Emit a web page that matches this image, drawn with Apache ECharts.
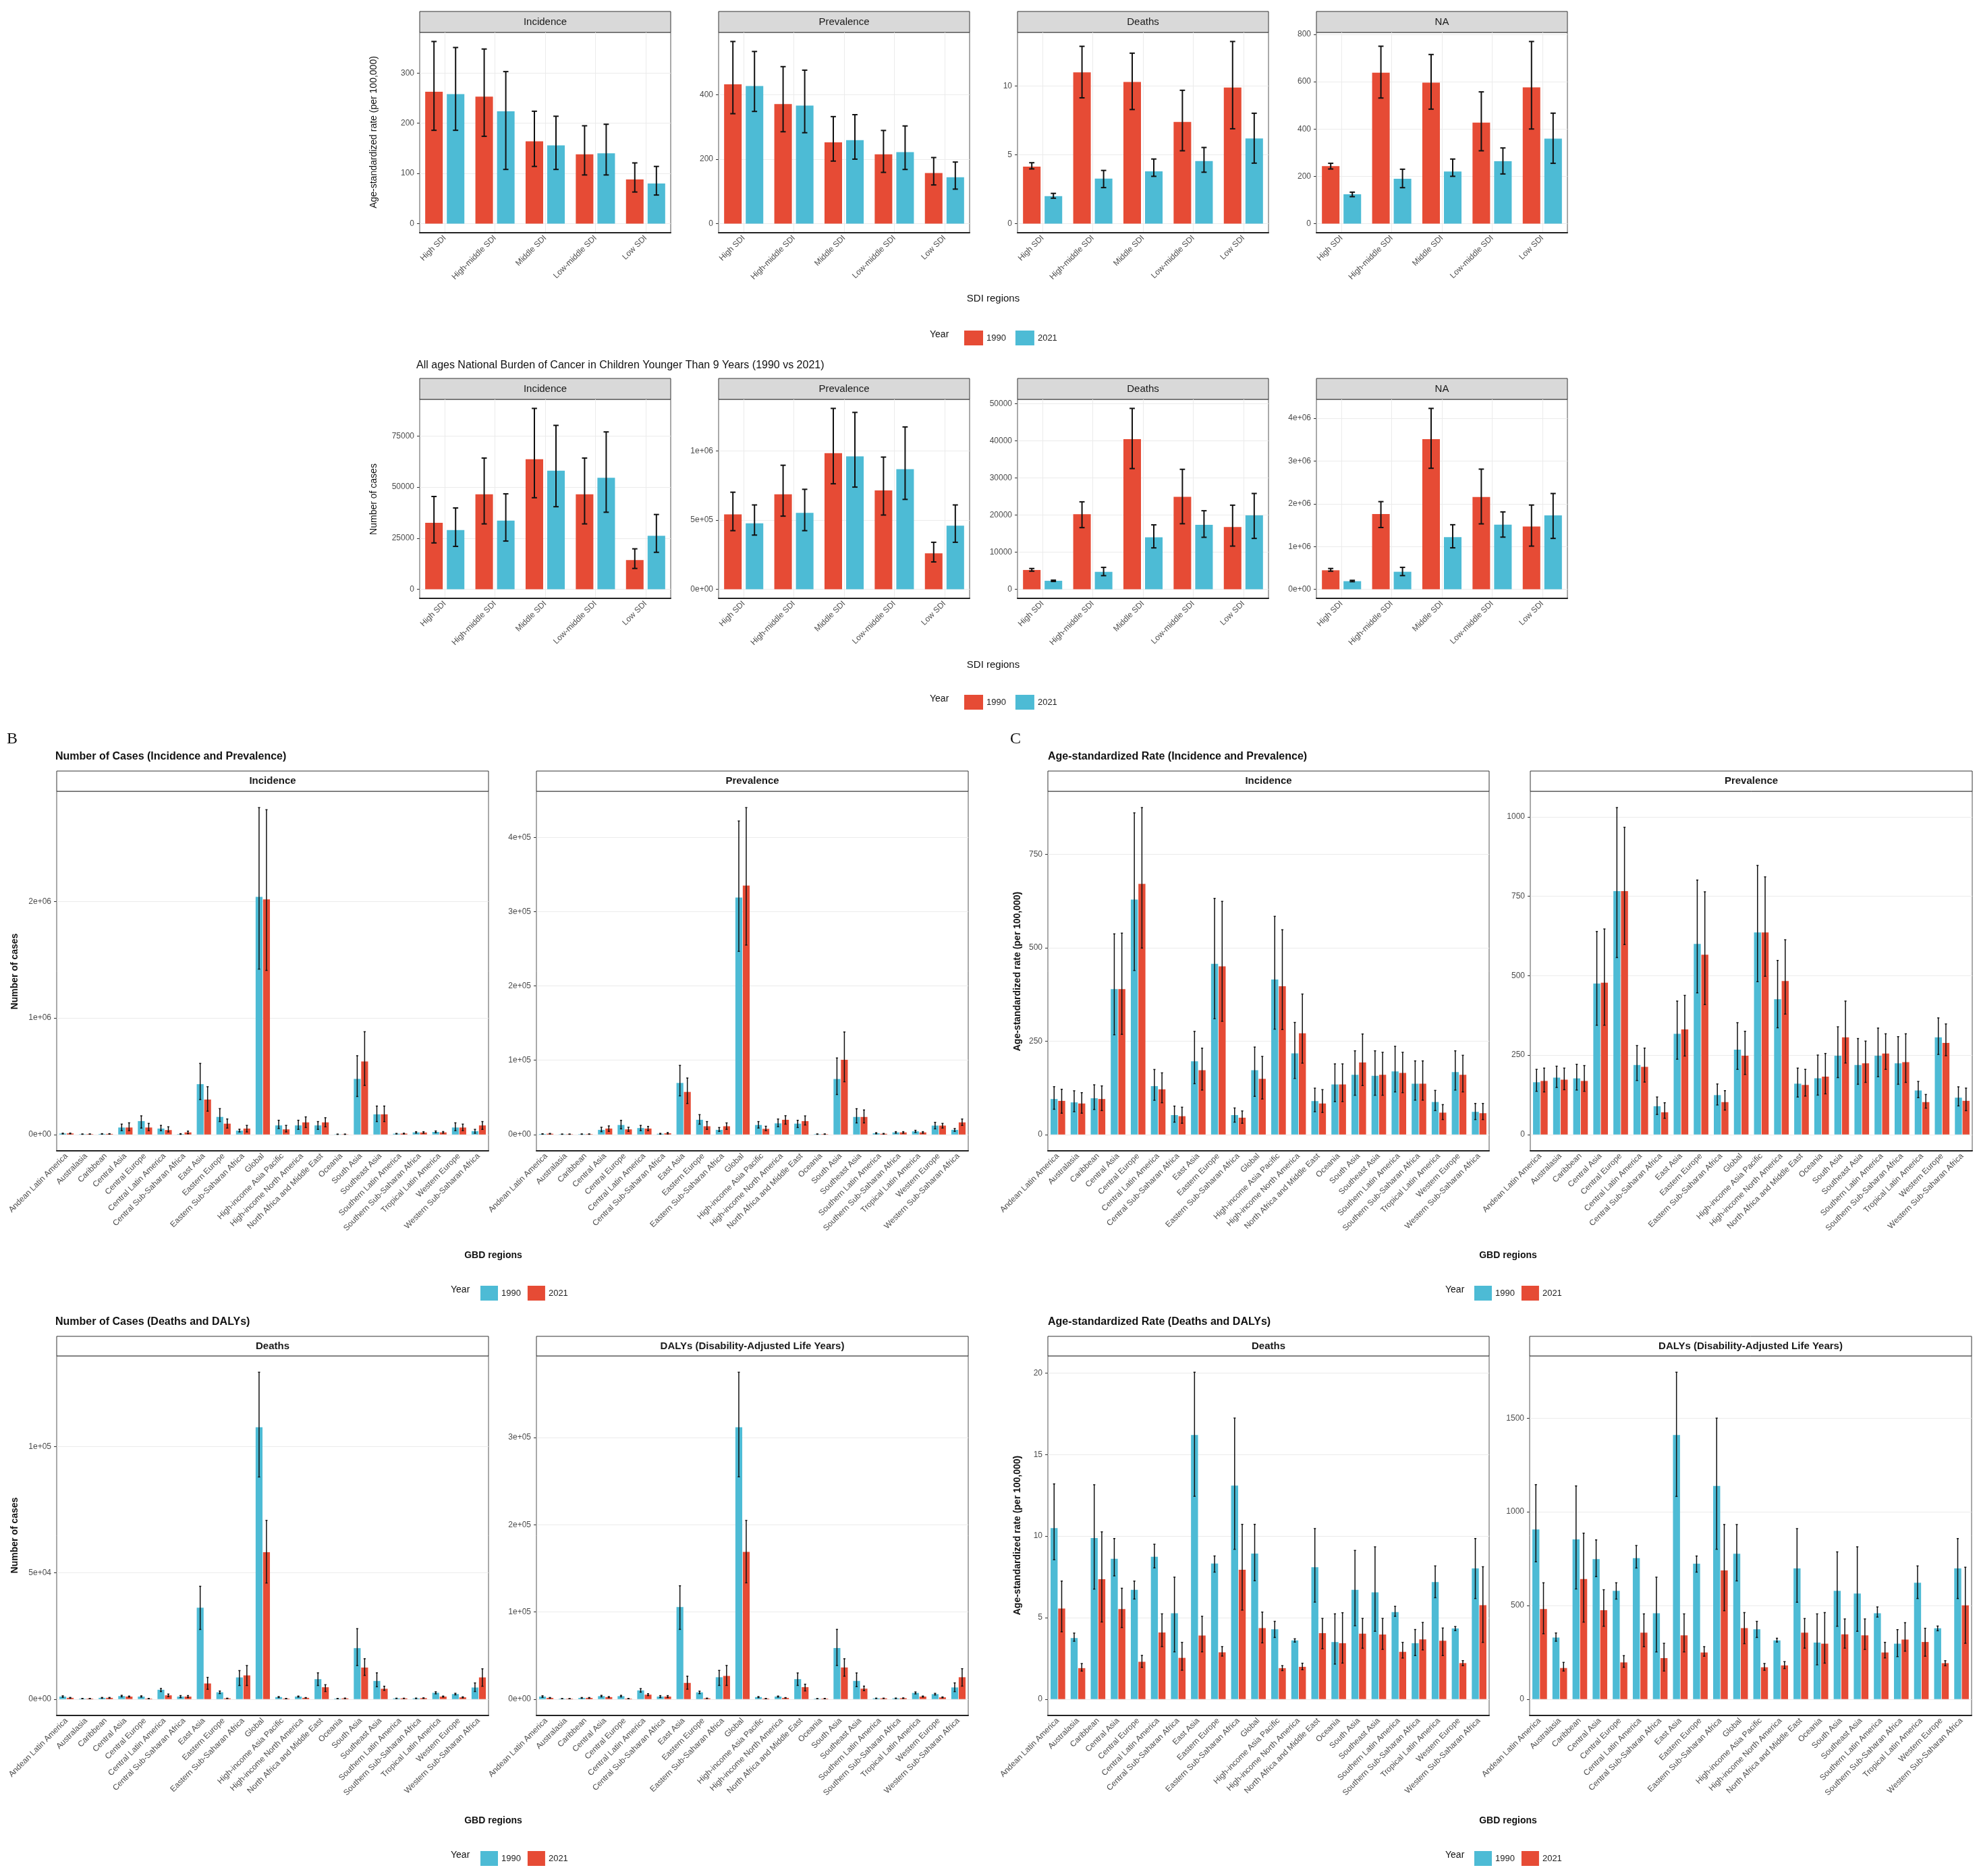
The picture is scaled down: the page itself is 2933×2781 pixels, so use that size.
<!doctype html>
<html>
<head>
<meta charset="utf-8">
<title>Cancer burden in children, 1990 vs 2021</title>
<style>
	html,body{margin:0;padding:0;background:#fff;}
	#page{position:relative;width:2933px;height:2781px;}
	.sec{position:absolute;}
</style>
</head>
<body>
<div id="page">
	<div class="sec" id="secA" style="left:0;top:0;width:2933px;height:1075px"></div>
	<div class="sec" id="secB1" style="left:0;top:1080px;width:1466px;height:870px"></div>
	<div class="sec" id="secC1" style="left:1466px;top:1080px;width:1467px;height:870px"></div>
	<div class="sec" id="secB2" style="left:0;top:1950px;width:1466px;height:831px"></div>
	<div class="sec" id="secC2" style="left:1466px;top:1950px;width:1467px;height:831px"></div>
</div>
<script src="https://cdn.jsdelivr.net/npm/echarts@6/dist/echarts.min.js"></script>
<script>
// categories
var sdiRegions = ['High SDI', 'High-middle SDI', 'Middle SDI', 'Low-middle SDI', 'Low SDI'];
var gbdRegions = ['Andean Latin America', 'Australasia', 'Caribbean', 'Central Asia', 'Central Europe',
	'Central Latin America', 'Central Sub-Saharan Africa', 'East Asia', 'Eastern Europe',
	'Eastern Sub-Saharan Africa', 'Global', 'High-income Asia Pacific', 'High-income North America',
	'North Africa and Middle East', 'Oceania', 'South Asia', 'Southeast Asia', 'Southern Latin America',
	'Southern Sub-Saharan Africa', 'Tropical Latin America', 'Western Europe', 'Western Sub-Saharan Africa'];
var years = ['1990', '2021'];

// each row: [value, lower, upper]
// A, top row: age-standardized rate by SDI region
var sdiRateInc1990 = [[263,186,363],[253,174,348],[164,114,224],[138,97,195],[88,63,121]];
var sdiRateInc2021 = [[258,186,351],[224,108,303],[156,108,214],[140,97,198],[80,57,114]];
var sdiRatePrev1990 = [[432,341,565],[371,285,487],[252,194,332],[215,159,289],[157,120,205]];
var sdiRatePrev2021 = [[427,348,534],[366,282,476],[259,200,338],[222,168,303],[144,107,191]];
var sdiRateDeaths1990 = [[4.15,3.98,4.43],[11.0,9.15,12.9],[10.3,8.3,12.4],[7.4,5.3,9.7],[9.9,6.9,13.25]];
var sdiRateDeaths2021 = [[2.0,1.85,2.2],[3.28,2.62,3.87],[3.8,3.44,4.7],[4.55,3.74,5.54],[6.2,4.4,8.03]];
var sdiRateNA1990 = [[243,231,255],[638,531,750],[596,484,715],[427,308,557],[576,400,770]];
var sdiRateNA2021 = [[124,114,133],[190,152,230],[220,200,273],[264,210,320],[359,255,467]];

// A, bottom row: number of cases by SDI region
var sdiNumInc1990 = [[32500,22700,45400],[46500,32000,64200],[63600,44800,88500],[46500,32000,64200],[14300,10200,19800]];
var sdiNumInc2021 = [[29000,21000,39800],[33600,23600,46700],[58000,40400,80200],[54600,37700,77000],[26200,18100,36600]];
var sdiNumPrev1990 = [[542000,424000,702000],[687000,529000,897000],[984000,763000,1308000],[715000,537000,956000],[260000,198000,340000]];
var sdiNumPrev2021 = [[477000,392000,610000],[553000,424000,723000],[961000,739000,1279000],[868000,650000,1174000],[460000,340000,610000]];
var sdiNumDeaths1990 = [[5200,4880,5600],[20200,16600,23550],[40400,32500,48700],[24900,17650,32300],[16750,11630,22650]];
var sdiNumDeaths2021 = [[2300,2100,2470],[4700,3670,5900],[14000,11150,17350],[17350,14000,21150],[19900,13700,25800]];
var sdiNumNA1990 = [[445000,424000,487000],[1760000,1445000,2050000],[3510000,2830000,4230000],[2160000,1530000,2810000],[1470000,1010000,1970000]];
var sdiNumNA2021 = [[190000,178000,210000],[410000,320000,513000],[1220000,970000,1510000],[1510000,1220000,1810000],[1730000,1190000,2240000]];

// B: number of cases by GBD region
var gbdNumInc1990 = [[8000,5000,11000],[3000,2000,4000],[5000,3000,7000],[60000,33000,89000],[115000,55000,160000],
	[51000,33000,78000],[4000,2000,7000],[432000,300000,610000],[151000,111000,222000],[33000,22000,45000],
	[2040000,1419000,2805000],[78000,51000,122000],[78000,44000,122000],[78000,44000,111000],[2000,1000,3000],
	[477000,326000,676000],[173000,111000,244000],[7000,5000,9000],[18000,12000,24000],[22000,15000,30000],
	[60000,33000,100000],[29000,11000,44000]];
var gbdNumInc2021 = [[9000,6000,12000],[3500,2500,4500],[5000,3000,7000],[60000,33000,100000],[60000,33000,95000],
	[38000,22000,66000],[18000,7000,29000],[300000,200000,410000],[93000,55000,133000],[51000,22000,78000],
	[2018000,1408000,2787000],[44000,22000,78000],[104000,60000,151000],[104000,66000,144000],[2000,1000,3000],
	[627000,421000,882000],[173000,111000,244000],[8000,5000,11000],[17000,11000,24000],[18000,12000,25000],
	[60000,33000,89000],[78000,44000,111000]];
var gbdNumPrev1990 = [[700,400,1000],[400,300,500],[500,300,700],[6250,3800,9700],[12800,7600,19000],
	[8700,5200,12200],[1000,500,1500],[69400,52000,93000],[19800,13900,26700],[6250,4200,9400],
	[319000,246500,422000],[12800,8700,17400],[15000,10400,20800],[14600,9400,19100],[500,300,700],
	[74700,53800,103000],[23600,15600,34700],[1700,1000,2400],[2800,1800,3800],[4200,2800,5600],
	[12000,7600,16300],[6250,4200,8000]];
var gbdNumPrev2021 = [[1000,600,1400],[400,300,500],[500,300,700],[8000,4200,11500],[6900,4200,9700],
	[8000,5200,10800],[1700,800,2600],[57300,41700,76000],[11100,6900,17400],[11100,6900,15600],
	[335000,255000,440000],[7600,5200,11100],[19800,13900,25300],[18000,12800,25000],[500,300,700],
	[100700,71000,138000],[23600,15600,33000],[1000,600,1400],[2800,1800,3800],[2800,1800,3800],
	[12000,8700,14900],[16300,12200,20800]];
var gbdNumDeaths1990 = [[1000,700,1300],[200,150,250],[500,350,650],[1200,900,1500],[1000,800,1300],
	[3700,3000,4200],[1000,600,1400],[36200,27600,44700],[2700,2200,3200],[8600,5400,11300],
	[107700,88000,129500],[800,600,1000],[1000,800,1200],[7900,5400,10400],[200,150,250],
	[20200,13300,27900],[7200,4900,10400],[300,250,350],[300,200,400],[2500,2100,2900],
	[2000,1700,2300],[4600,3000,6400]];
var gbdNumDeaths2021 = [[500,350,650],[200,150,250],[500,350,650],[1000,800,1200],[200,150,250],
	[1500,1000,2000],[1000,600,1400],[6200,3900,8600],[300,250,350],[9400,5400,13300],
	[58200,46000,70800],[200,150,250],[500,400,600],[4700,3000,5700],[300,200,400],
	[12500,9400,16000],[4100,3500,5100],[300,250,350],[400,300,500],[1000,800,1200],
	[700,500,900],[8600,5100,12000]];
var gbdNumDaly1990 = [[2900,2000,3800],[500,400,600],[1400,1000,1800],[3400,2600,4300],[3400,2600,4300],
	[10000,8000,12000],[2900,1800,4000],[105700,80000,130000],[7700,6300,9100],[25100,15700,32900],
	[312000,255000,375000],[2300,1700,2900],[2900,2300,3500],[22900,15700,30000],[500,400,600],
	[58600,38600,80000],[20900,14300,30000],[900,700,1100],[900,600,1200],[7100,6000,8200],
	[5700,4800,6600],[13400,8600,18600]];
var gbdNumDaly2021 = [[1400,1000,1800],[500,400,600],[1400,1000,1800],[2300,1700,2900],[600,500,700],
	[5100,4000,6200],[2900,1800,4000],[18600,11400,26300],[900,700,1100],[26600,15700,38600],
	[169000,133400,205000],[600,500,700],[1400,1100,1700],[13700,9400,17100],[600,400,800],
	[36300,26300,46300],[12000,9700,14900],[900,700,1100],[1100,800,1400],[2900,2300,3500],
	[2000,1500,2500],[25100,14900,34900]];

// C: age-standardized rate by GBD region
var gbdRateInc1990 = [[95,67.5,128],[86,61,117],[97,67,133],[389,267,537],[629,439,861],
	[129.5,91.6,174],[52,33,76],[196,136,276],[457,310,632],[52,33,71],
	[172,102,234],[415,282,584],[217,150,300],[89.5,61,124],[134,88,189],
	[160,105,224],[157,105,224],[169,114,236],[136,92,197],[87,64,118],
	[167,119,224],[60.6,40,83]];
var gbdRateInc2021 = [[90,57,121],[83,57,112],[95,64,130],[389,268,539],[671,499,875],
	[121,85,165],[49,30,73],[172,119,231],[450,303,624],[45,30,63],
	[149,95,209],[397,281,548],[271,191,376],[83,59,120],[134,88,189],
	[193,131,269],[160,105,220],[165,112,220],[136,92,197],[58.5,40,80],
	[160,114,212],[57,40,83]];
var gbdRatePrev1990 = [[164.5,136,205],[179,148,215],[176.7,140,221],[475,344,639],[766,557,1029],
	[219,170,280],[89,63,118],[317,237,420],[600,446,801],[124,93,159],
	[267,205,352],[636,481,847],[426,336,548],[160,118,209],[177,124,250],
	[248,179,339],[219,158,302],[248,182,335],[224,158,308],[138.6,116,167],
	[306,252,367],[116,90,150]];
var gbdRatePrev2021 = [[168.6,134,209],[172.6,141,209],[168.6,136,217],[478,344,647],[766,598,967],
	[213,165,272],[70,51,100],[331,247,438],[566,409,764],[102,77,138],
	[248,189,325],[636,498,811],[483,379,613],[156,121,205],[182,128,255],
	[306,225,420],[224,164,294],[255,205,317],[228,164,317],[102,83,126],
	[288.5,248,348],[106,75,146]];
var gbdRateDeaths1990 = [[10.49,8.55,13.2],[3.75,3.55,4.05],[9.88,6.75,13.15],[8.61,7.56,9.85],[6.7,6.14,7.24],
	[8.73,8.05,9.5],[5.27,2.9,7.48],[16.2,12.44,20.05],[8.32,7.79,8.78],[13.1,9.19,17.24],
	[8.93,7.26,10.72],[4.28,3.78,4.77],[3.6,3.5,3.7],[8.09,5.95,10.46],[3.5,2.15,5.23],
	[6.7,4.5,9.12],[6.55,4.16,9.34],[5.34,5.08,5.69],[3.43,2.67,4.27],[7.18,6.22,8.17],
	[4.34,4.2,4.45],[8.02,6.17,9.85]];
var gbdRateDeaths2021 = [[5.56,4.13,7.24],[1.9,1.72,2.18],[7.36,4.73,10.26],[5.53,4.39,6.8],[2.29,1.95,2.68],
	[4.09,3.22,5.23],[2.53,1.77,3.48],[3.9,2.9,5.08],[2.87,2.64,3.22],[7.94,5.46,10.72],
	[4.36,3.45,5.34],[1.9,1.75,2.05],[1.98,1.8,2.2],[4.05,3.09,4.95],[3.43,2.21,5.3],
	[4.01,3.12,4.95],[3.96,3.05,4.95],[2.9,2.52,3.48],[3.66,3.02,4.7],[3.58,2.67,4.36],
	[2.21,2.05,2.36],[5.76,3.48,8.12]];
var gbdRateDaly1990 = [[906,733,1145],[329,309,353],[853,588,1138],[747,654,850],[578,534,621],
	[753,700,820],[458,252,651],[1410,1082,1745],[723,678,764],[1138,800,1500],
	[776,631,932],[373,329,415],[313,305,325],[698,517,910],[302,183,455],
	[578,389,786],[564,362,813],[458,438,492],[296,227,371],[621,537,711],
	[378,365,390],[698,537,857]];
var gbdRateDaly2021 = [[481,349,621],[166,150,196],[641,411,886],[475,389,584],[196,170,232],
	[355,280,455],[219,150,298],[340,252,455],[249,229,280],[687,472,932],
	[379,296,462],[170,154,190],[180,163,200],[355,272,430],[296,192,462],
	[346,272,428],[340,265,428],[249,220,303],[318,256,408],[305,229,378],
	[192,178,205],[501,298,704]];

// tick positions
var ticksSdiRateInc = [0, 100, 200, 300];
var ticksSdiRatePrev = [0, 200, 400];
var ticksSdiRateDeaths = [0, 5, 10];
var ticksSdiRateNA = [0, 200, 400, 600, 800];
var ticksSdiNumInc = [0, 25000, 50000, 75000];
var ticksSdiNumPrev = [0, 500000, 1000000];
var ticksSdiNumDeaths = [0, 10000, 20000, 30000, 40000, 50000];
var ticksSdiNumNA = [0, 1000000, 2000000, 3000000, 4000000];
var ticksGbdNumInc = [0, 1000000, 2000000];
var ticksGbdNumPrev = [0, 100000, 200000, 300000, 400000];
var ticksGbdNumDeaths = [0, 50000, 100000];
var ticksGbdNumDaly = [0, 100000, 200000, 300000];
var ticksGbdRateInc = [0, 250, 500, 750];
var ticksGbdRatePrev = [0, 250, 500, 750, 1000];
var ticksGbdRateDeaths = [0, 5, 10, 15, 20];
var ticksGbdRateDaly = [0, 500, 1000, 1500];

var RED = '#E64B35', BLUE = '#4DBBD5';
var FONT = '"Liberation Sans", Arial, sans-serif';

function plain(v) { return String(v); }
function sci(v) { return v.toExponential(0).replace(/e([+-])(\d)$/, 'e$10$2'); }

function errorBars(sign, gapFrac, lineW) {
	return function (params, api) {
		var band = api.size([1, 0])[0];
		var bw = band * 0.35;
		var cx = api.coord([api.value(0), 0])[0] + sign * (bw + bw * gapFrac) / 2;
		var yLo = api.coord([api.value(0), api.value(1)])[1];
		var yHi = api.coord([api.value(0), api.value(2)])[1];
		var c = bw * 0.15;
		var st = {stroke: '#111', lineWidth: lineW};
		return {type: 'group', children: [
			{type: 'line', shape: {x1: cx, y1: yLo, x2: cx, y2: yHi}, style: st},
			{type: 'line', shape: {x1: cx - c, y1: yHi, x2: cx + c, y2: yHi}, style: st},
			{type: 'line', shape: {x1: cx - c, y1: yLo, x2: cx + c, y2: yLo}, style: st}
		]};
	};
}

function textEl(t, origin) {
	return {type: 'text', x: t.x - origin[0], y: t.y - origin[1], rotation: t.rot || 0, silent: true,
		style: {text: t.text, fill: t.color || '#111', fontSize: t.size || 14,
			fontWeight: t.bold ? 'bold' : 'normal', fontFamily: t.family || FONT,
			align: t.align || 'center', verticalAlign: 'middle',
			textAlign: t.align || 'center', textVerticalAlign: 'middle'}};
}

function buildSection(elId, origin, cfg) {
	var chart = echarts.init(document.getElementById(elId));
	var grid = [], xAxis = [], yAxis = [], series = [], graphic = [];
	cfg.panels.forEach(function (p, i) {
		var gx = p.x - origin[0], gy = p.y - origin[1];
		grid.push({left: gx, top: gy, width: p.w, height: p.h, show: true,
			borderColor: '#555', borderWidth: 1});
		graphic.push({type: 'rect', silent: true,
			shape: {x: gx, y: gy - cfg.stripH, width: p.w, height: cfg.stripH},
			style: {fill: cfg.stripFill, stroke: '#333', lineWidth: 1}});
		graphic.push(textEl({text: p.name, x: p.x + p.w / 2, y: p.y - cfg.stripH / 2,
			size: cfg.stripSize, bold: cfg.stripBold, color: '#1A1A1A'}, origin));
		var top = 0;
		p.d.forEach(function (d) { d.forEach(function (r) { top = Math.max(top, r[2]); }); });
		xAxis.push({type: 'category', gridIndex: i, data: p.cats,
			axisLine: {onZero: false, lineStyle: {color: '#222', width: 2}},
			axisTick: {alignWithLabel: true, length: 4, lineStyle: {color: '#333'}},
			axisLabel: {rotate: 45, interval: 0, fontSize: 12, color: '#4D4D4D', margin: 6, fontFamily: FONT},
			splitLine: {show: cfg.vgrid, interval: 0, alignWithLabel: true, lineStyle: {color: '#EBEBEB'}}});
		yAxis.push({type: 'value', gridIndex: i, min: -0.05 * top, max: 1.05 * top,
			axisLine: {show: false},
			axisTick: {show: true, length: 4, customValues: p.ticks, lineStyle: {color: '#333'}},
			axisLabel: {customValues: p.ticks, formatter: p.fmt, fontSize: 12, color: '#4D4D4D', fontFamily: FONT},
			splitLine: {show: true, lineStyle: {color: '#EBEBEB', width: 1.2}}});
		p.d.forEach(function (d, k) {
			series.push({type: 'bar', name: years[k], xAxisIndex: i, yAxisIndex: i,
				data: d.map(function (r) { return r[0]; }),
				barWidth: '35%', barGap: (cfg.gap * 100) + '%',
				itemStyle: {color: cfg.colors[k]}, silent: true});
		});
		p.d.forEach(function (d, k) {
			series.push({type: 'custom', name: years[k] + ' UI', xAxisIndex: i, yAxisIndex: i, z: 5,
				data: d.map(function (r, j) { return [j, r[1], r[2]]; }),
				renderItem: errorBars(k === 0 ? -1 : 1, cfg.gap, cfg.lineW), silent: true});
		});
	});
	cfg.texts.forEach(function (t) { graphic.push(textEl(t, origin)); });
	var legend = cfg.legends.map(function (L) {
		graphic.push(textEl({text: 'Year', x: L.yearX, y: L.y, size: 14, align: 'left'}, origin));
		return {left: L.x - origin[0], top: L.y - origin[1] - cfg.keyH / 2, data: years, icon: 'rect',
			itemWidth: cfg.keyW, itemHeight: cfg.keyH, itemGap: cfg.keyGap, selectedMode: false,
			textStyle: {fontSize: 13, color: '#222', fontFamily: FONT}};
	});
	chart.setOption({animation: false, textStyle: {fontFamily: FONT},
		grid: grid, xAxis: xAxis, yAxis: yAxis, series: series, graphic: graphic, legend: legend});
	return chart;
}

// ---- A: SDI regions ----
var aX = [622, 1065, 1508, 1951], aW = 372;
buildSection('secA', [0, 0], {
	stripH: 31, stripFill: '#D9D9D9', stripSize: 15, stripBold: false,
	colors: [RED, BLUE], gap: 0.23, lineW: 2, vgrid: true,
	keyW: 28, keyH: 22, keyGap: 14,
	panels: [
		{name: 'Incidence', x: aX[0], y: 48, w: aW, h: 297, cats: sdiRegions, d: [sdiRateInc1990, sdiRateInc2021], ticks: ticksSdiRateInc, fmt: plain},
		{name: 'Prevalence', x: aX[1], y: 48, w: aW, h: 297, cats: sdiRegions, d: [sdiRatePrev1990, sdiRatePrev2021], ticks: ticksSdiRatePrev, fmt: plain},
		{name: 'Deaths', x: aX[2], y: 48, w: aW, h: 297, cats: sdiRegions, d: [sdiRateDeaths1990, sdiRateDeaths2021], ticks: ticksSdiRateDeaths, fmt: plain},
		{name: 'NA', x: aX[3], y: 48, w: aW, h: 297, cats: sdiRegions, d: [sdiRateNA1990, sdiRateNA2021], ticks: ticksSdiRateNA, fmt: plain},
		{name: 'Incidence', x: aX[0], y: 592, w: aW, h: 295, cats: sdiRegions, d: [sdiNumInc1990, sdiNumInc2021], ticks: ticksSdiNumInc, fmt: plain},
		{name: 'Prevalence', x: aX[1], y: 592, w: aW, h: 295, cats: sdiRegions, d: [sdiNumPrev1990, sdiNumPrev2021], ticks: ticksSdiNumPrev, fmt: sci},
		{name: 'Deaths', x: aX[2], y: 592, w: aW, h: 295, cats: sdiRegions, d: [sdiNumDeaths1990, sdiNumDeaths2021], ticks: ticksSdiNumDeaths, fmt: plain},
		{name: 'NA', x: aX[3], y: 592, w: aW, h: 295, cats: sdiRegions, d: [sdiNumNA1990, sdiNumNA2021], ticks: ticksSdiNumNA, fmt: sci}
	],
	texts: [
		{text: 'Age-standardized rate (per 100,000)', x: 554, y: 196, rot: Math.PI / 2, size: 14},
		{text: 'Number of cases', x: 554, y: 740, rot: Math.PI / 2, size: 14},
		{text: 'SDI regions', x: 1472, y: 443, size: 15},
		{text: 'SDI regions', x: 1472, y: 986, size: 15},
		{text: 'All ages National Burden of Cancer in Children Younger Than 9 Years (1990 vs 2021)', x: 617, y: 542, size: 16, align: 'left'}
	],
	legends: [{x: 1424, y: 496, yearX: 1378}, {x: 1424, y: 1036, yearX: 1378}]
});

// ---- B and C: GBD regions ----
var gbdCfg = {stripFill: '#FFFFFF', stripSize: 15, stripBold: true, colors: [BLUE, RED],
	gap: 0.08, lineW: 1.5, vgrid: false, keyW: 26, keyH: 22, keyGap: 10};
function gbdSection(elId, origin, extra) {
	var cfg = {};
	Object.keys(gbdCfg).forEach(function (k) { cfg[k] = gbdCfg[k]; });
	Object.keys(extra).forEach(function (k) { cfg[k] = extra[k]; });
	return buildSection(elId, origin, cfg);
}

gbdSection('secB1', [0, 1080], {
	stripH: 30,
	panels: [
		{name: 'Incidence', x: 84, y: 1173, w: 640, h: 533, cats: gbdRegions, d: [gbdNumInc1990, gbdNumInc2021], ticks: ticksGbdNumInc, fmt: sci},
		{name: 'Prevalence', x: 795, y: 1173, w: 640, h: 533, cats: gbdRegions, d: [gbdNumPrev1990, gbdNumPrev2021], ticks: ticksGbdNumPrev, fmt: sci}
	],
	texts: [
		{text: 'B', x: 18, y: 1096, size: 24, family: '"Liberation Serif", serif'},
		{text: 'Number of Cases (Incidence and Prevalence)', x: 82, y: 1122, size: 16, bold: true, align: 'left'},
		{text: 'Number of cases', x: 22, y: 1440, rot: Math.PI / 2, size: 14, bold: true},
		{text: 'GBD regions', x: 731, y: 1861, size: 14, bold: true}
	],
	legends: [{x: 707, y: 1912, yearX: 668}]
});

gbdSection('secC1', [1466, 1080], {
	stripH: 30,
	panels: [
		{name: 'Incidence', x: 1553, y: 1173, w: 654, h: 533, cats: gbdRegions, d: [gbdRateInc1990, gbdRateInc2021], ticks: ticksGbdRateInc, fmt: plain},
		{name: 'Prevalence', x: 2268, y: 1173, w: 655, h: 533, cats: gbdRegions, d: [gbdRatePrev1990, gbdRatePrev2021], ticks: ticksGbdRatePrev, fmt: plain}
	],
	texts: [
		{text: 'C', x: 1505, y: 1096, size: 24, family: '"Liberation Serif", serif'},
		{text: 'Age-standardized Rate (Incidence and Prevalence)', x: 1553, y: 1122, size: 16, bold: true, align: 'left'},
		{text: 'Age-standardized rate (per 100,000)', x: 1508, y: 1440, rot: Math.PI / 2, size: 14, bold: true},
		{text: 'GBD regions', x: 2235, y: 1861, size: 14, bold: true}
	],
	legends: [{x: 2180, y: 1912, yearX: 2142}]
});

gbdSection('secB2', [0, 1950], {
	stripH: 29,
	panels: [
		{name: 'Deaths', x: 84, y: 2010, w: 640, h: 533, cats: gbdRegions, d: [gbdNumDeaths1990, gbdNumDeaths2021], ticks: ticksGbdNumDeaths, fmt: sci},
		{name: 'DALYs (Disability-Adjusted Life Years)', x: 795, y: 2010, w: 640, h: 533, cats: gbdRegions, d: [gbdNumDaly1990, gbdNumDaly2021], ticks: ticksGbdNumDaly, fmt: sci}
	],
	texts: [
		{text: 'Number of Cases (Deaths and DALYs)', x: 82, y: 1960, size: 16, bold: true, align: 'left'},
		{text: 'Number of cases', x: 22, y: 2276, rot: Math.PI / 2, size: 14, bold: true},
		{text: 'GBD regions', x: 731, y: 2699, size: 14, bold: true}
	],
	legends: [{x: 707, y: 2750, yearX: 668}]
});

gbdSection('secC2', [1466, 1950], {
	stripH: 29,
	panels: [
		{name: 'Deaths', x: 1553, y: 2010, w: 654, h: 533, cats: gbdRegions, d: [gbdRateDeaths1990, gbdRateDeaths2021], ticks: ticksGbdRateDeaths, fmt: plain},
		{name: 'DALYs (Disability-Adjusted Life Years)', x: 2267, y: 2010, w: 655, h: 533, cats: gbdRegions, d: [gbdRateDaly1990, gbdRateDaly2021], ticks: ticksGbdRateDaly, fmt: plain}
	],
	texts: [
		{text: 'Age-standardized Rate (Deaths and DALYs)', x: 1553, y: 1960, size: 16, bold: true, align: 'left'},
		{text: 'Age-standardized rate (per 100,000)', x: 1508, y: 2276, rot: Math.PI / 2, size: 14, bold: true},
		{text: 'GBD regions', x: 2235, y: 2699, size: 14, bold: true}
	],
	legends: [{x: 2180, y: 2750, yearX: 2142}]
});
</script>
</body>
</html>
